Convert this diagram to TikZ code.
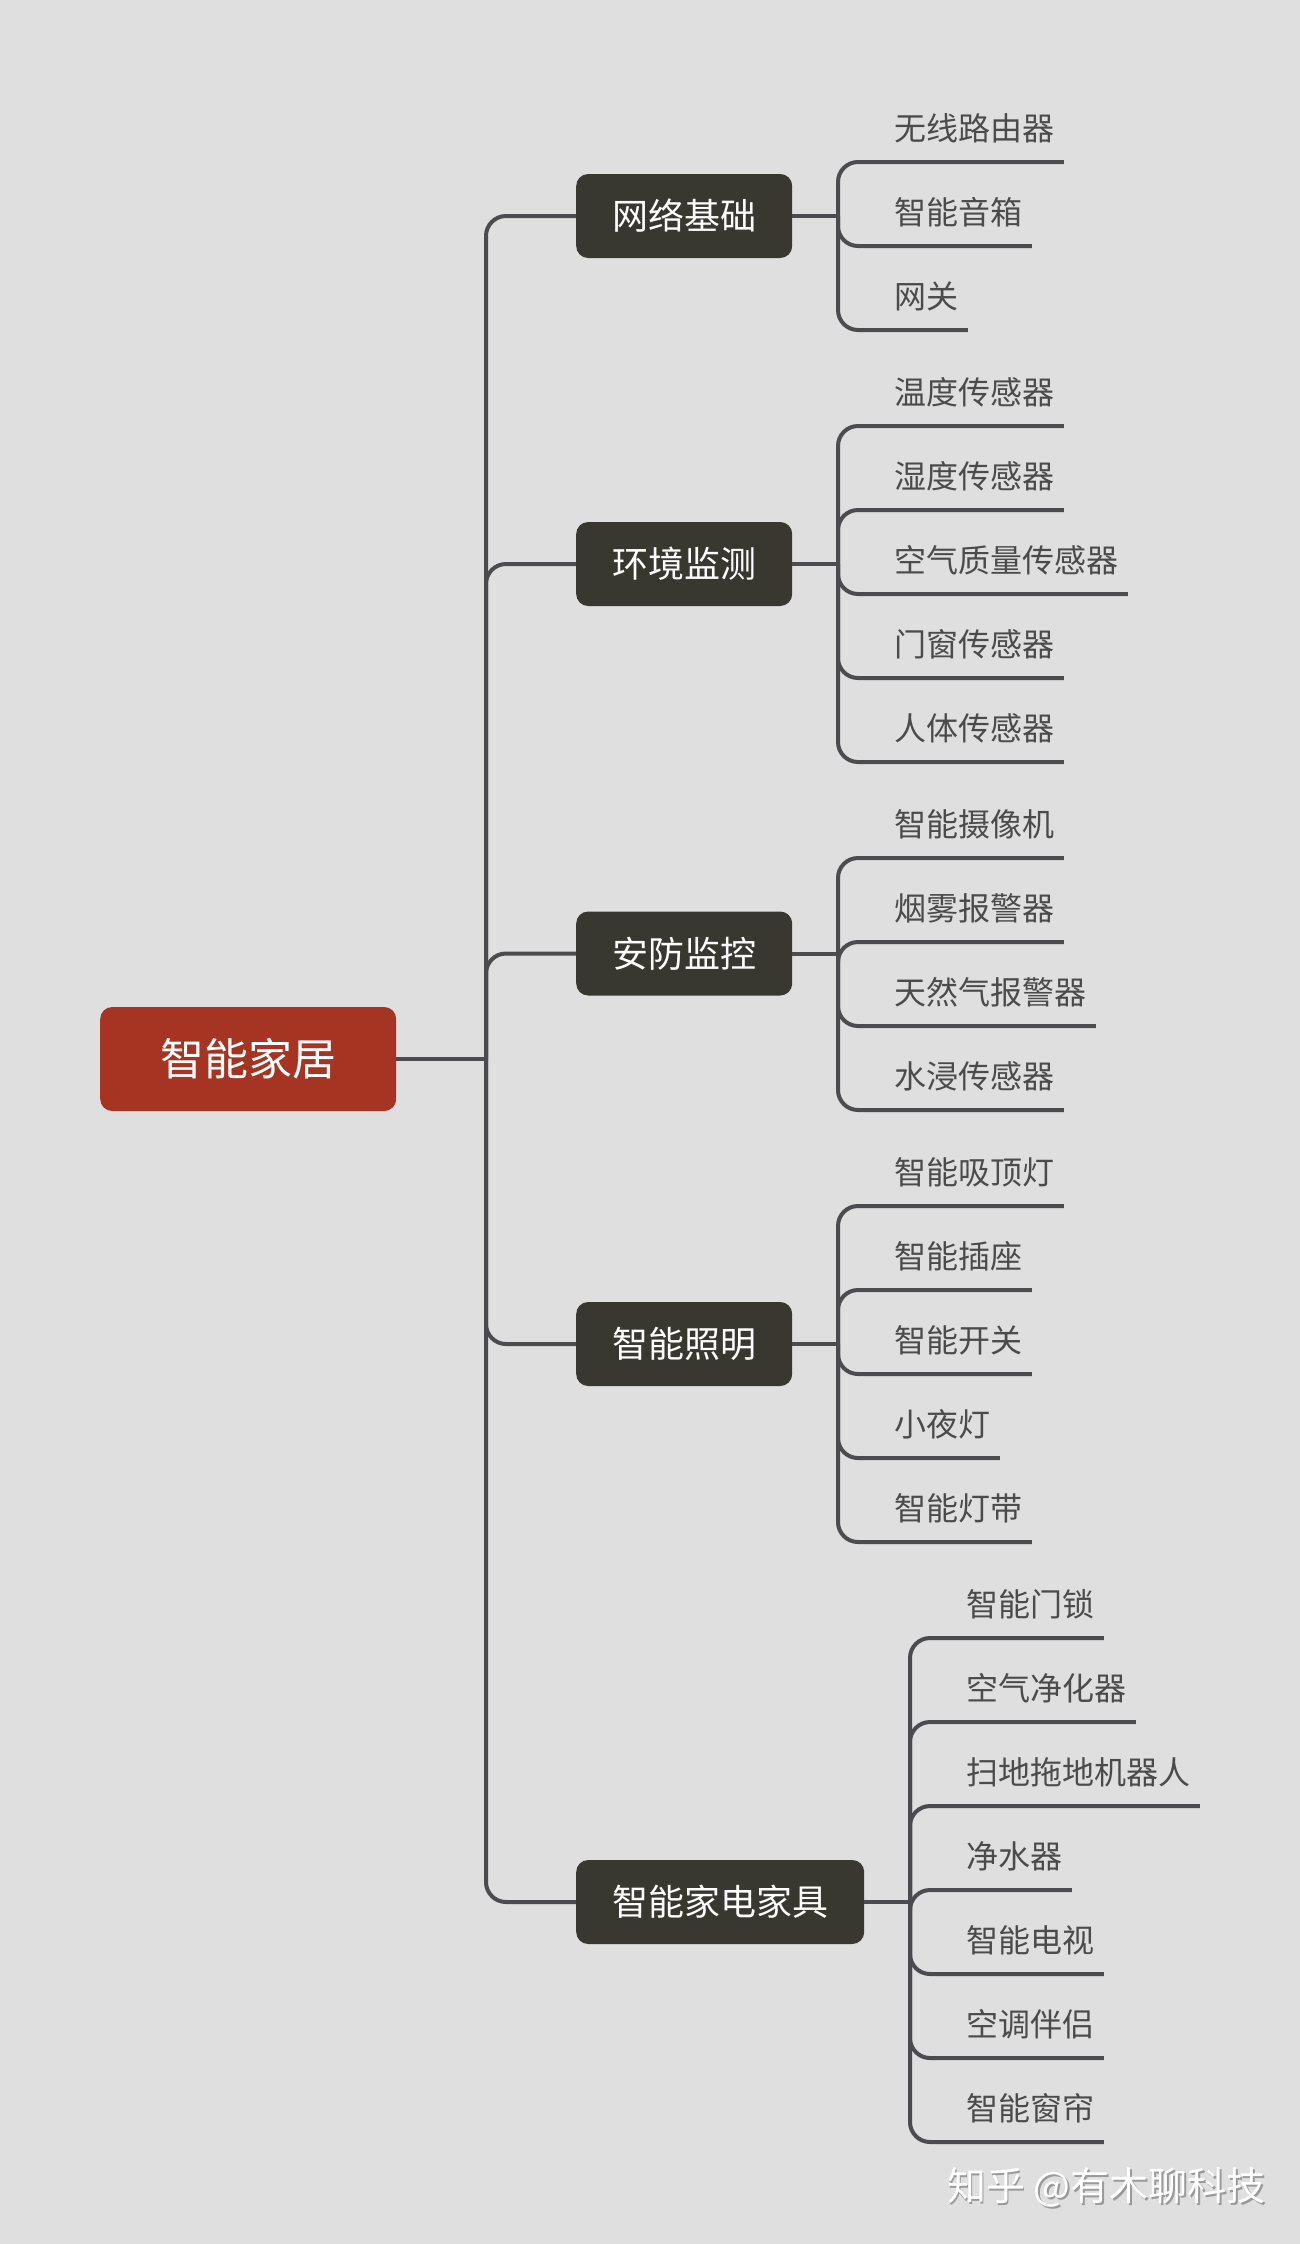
\documentclass[tikz,border=0pt]{standalone}
\usepackage{fontspec}
\setmainfont{Noto Sans CJK SC}
\definecolor{paperColor}{HTML}{DFDFDF}
\definecolor{lineColor}{HTML}{4B4B50}
\definecolor{rootColor}{HTML}{A53522}
\definecolor{branchColor}{HTML}{383830}
\definecolor{leafTextColor}{HTML}{4B4B4B}
\definecolor{markShadowColor}{HTML}{9A9A9A}
\tikzstyle{mindMap} = [x = 1pt, y = -1pt]
\tikzstyle{treeLine} = [color=lineColor, line width=4pt, rounded corners=20pt]
\tikzstyle{rootStyle} = [fill=rootColor, text=white, rounded corners=12pt, anchor=west, inner xsep=60pt, inner ysep=0pt, minimum height=104pt, font=\fontsize{44}{44}\selectfont]
\tikzstyle{branchStyle} = [fill=branchColor, text=white, rounded corners=12pt, anchor=west, inner xsep=36pt, inner ysep=0pt, minimum height=84pt, font=\fontsize{36}{36}\selectfont]
\tikzstyle{leafStyle} = [text=leafTextColor, anchor=south west, inner xsep=9.5pt, inner ysep=16pt, text height=27pt, text depth=5pt, font=\fontsize{32}{32}\selectfont]
\tikzstyle{markStyle} = [text=white, anchor=west, inner sep=0pt, font=\fontsize{39}{39}\selectfont]
\newcommand{\shadowText}[1]{\rlap{\kern1.5pt\raisebox{-2pt}{\textcolor{markShadowColor}{#1}}}#1}
\newcommand{\branchNode}[4]{
  \node [branchStyle] (#1) at (576,#2) {#4};
  \coordinate (#1Hub) at (#3,#2);
  \draw [treeLine] (rootHub) |- (#1.west);
  \draw [treeLine] (#1.east) -- (#1Hub);
}
\newcommand{\leafGroup}[3]{
  \foreach \leafY/\leafText in {#3} {
    \node [leafStyle] (leaf\leafY) at (#2 + 46.5,\leafY) {\leafText};
    \draw [treeLine] (#1Hub) |- (leaf\leafY.south east);
  }
}
\begin{document}
\begin{tikzpicture}[mindMap]
  \useasboundingbox [fill=paperColor] (0,0) rectangle (1300,2244);
  \node [rootStyle] (root) at (100,1059) {智能家居};
  \coordinate (rootHub) at (486,1059);
  \draw [treeLine] (root.east) -- (rootHub);
  \branchNode{network}{216}{838}{网络基础}
  \branchNode{environment}{564}{838}{环境监测}
  \branchNode{security}{953.5}{838}{安防监控}
  \branchNode{lighting}{1344}{838}{智能照明}
  \branchNode{appliance}{1902}{910}{智能家电家具}
  \leafGroup{network}{838}{162/无线路由器,246/智能音箱,330/网关}
  \leafGroup{environment}{838}{426/温度传感器,510/湿度传感器,594/空气质量传感器,678/门窗传感器,762/人体传感器}
  \leafGroup{security}{838}{858/智能摄像机,942/烟雾报警器,1026/天然气报警器,1110/水浸传感器}
  \leafGroup{lighting}{838}{1206/智能吸顶灯,1290/智能插座,1374/智能开关,1458/小夜灯,1542/智能灯带}
  \leafGroup{appliance}{910}{1638/智能门锁,1722/空气净化器,1806/扫地拖地机器人,1890/净水器,1974/智能电视,2058/空调伴侣,2142/智能窗帘}
  \node [markStyle] (watermark) at (947,2188) {\shadowText{知乎 @有木聊科技}};
\end{tikzpicture}
\end{document}
